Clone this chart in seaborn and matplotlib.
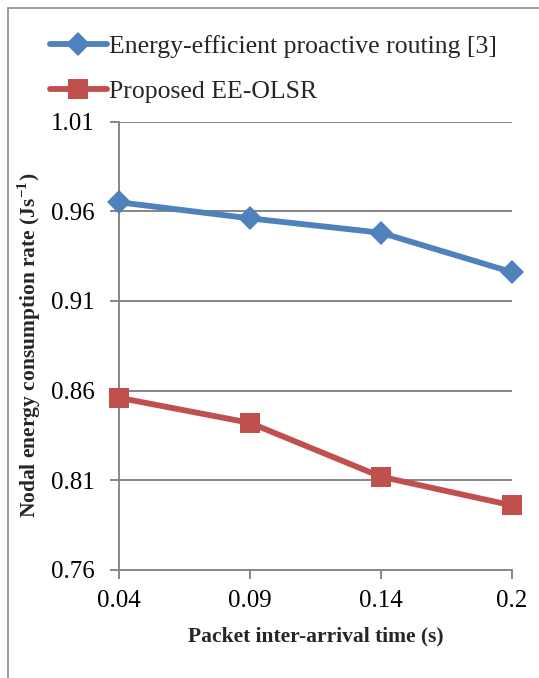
import matplotlib
matplotlib.use("Agg")
import matplotlib.pyplot as plt
import seaborn as sns
import pandas as pd
from matplotlib.patches import Rectangle

# Packet inter-arrival time categories (s)
arrival_times = ["0.04", "0.09", "0.14", "0.2"]
# Nodal energy consumption rate (J/s)
proactive_routing = [0.965, 0.956, 0.948, 0.926]
ee_olsr = [0.856, 0.842, 0.812, 0.796]
series_names = ["Energy-efficient proactive routing [3]", "Proposed EE-OLSR"]
y_ticks = [0.76, 0.81, 0.86, 0.91, 0.96, 1.01]

sns.set_theme(style="white")
plt.rcParams["font.family"] = ["Liberation Serif", "DejaVu Serif"]
plt.rcParams["mathtext.fontset"] = "custom"
plt.rcParams["mathtext.rm"] = "Liberation Serif"
plt.rcParams["mathtext.bf"] = "Liberation Serif:bold"

blue = "#4F81BD"
red = "#C0504D"
grid_c = "#868686"

W, H = 539, 678
fig = plt.figure(figsize=(W / 100, H / 100), dpi=100)
fig.patches.append(Rectangle((8 / W, -0.1), 1.2, 1 - 8 / H + 0.1,
                             transform=fig.transFigure, fill=False,
                             edgecolor="#8c8c8c", linewidth=1.2))
ax = fig.add_axes([119 / W, 1 - 570 / H, (512 - 119) / W, (570 - 121.5) / H])

df = pd.DataFrame({
    "x": list(range(len(arrival_times))) * 2,
    "rate": proactive_routing + ee_olsr,
    "series": [series_names[0]] * 4 + [series_names[1]] * 4,
})

sns.lineplot(data=df[df.series == series_names[0]], x="x", y="rate", ax=ax,
             color=blue, linewidth=4.2, marker="D", markersize=12,
             markeredgewidth=0, label=series_names[0], clip_on=False, zorder=4)
sns.lineplot(data=df[df.series == series_names[1]], x="x", y="rate", ax=ax,
             color=red, linewidth=4.2, marker="s", markersize=14,
             markeredgewidth=0, label=series_names[1], clip_on=False, zorder=4)

ax.set_xlim(0, 3)
ax.set_ylim(0.76, 1.01)
ax.set_yticks(y_ticks)
ax.set_yticklabels([f"{v:.2f}" for v in y_ticks])
ax.set_xticks(range(len(arrival_times)))
ax.set_xticklabels(arrival_times)

ax.grid(False)
for v in y_ticks[1:]:
    ax.axhline(v, color=grid_c, linewidth=1.4, zorder=1)

for s in ["top", "right"]:
    ax.spines[s].set_visible(False)
for s in ["left", "bottom"]:
    ax.spines[s].set_color(grid_c)
    ax.spines[s].set_linewidth(1.4)

ax.tick_params(axis="both", which="major", direction="out", length=6.5,
               width=1.4, color=grid_c, labelsize=18, labelcolor="black",
               left=True, bottom=True)
ax.tick_params(axis="y", pad=11)
ax.tick_params(axis="x", pad=8)

ax.set_xlabel("Packet inter-arrival time (s)", fontsize=15.5, fontweight="bold",
              labelpad=10)
ax.set_ylabel(r"Nodal energy consumption rate (Js$^{\mathbf{-1}}$)",
              fontsize=15.5, fontweight="bold", labelpad=6)

leg = ax.legend(loc="upper left", bbox_to_anchor=(50 / W, 1 - 35 / H),
                bbox_transform=fig.transFigure, frameon=False,
                fontsize=18.5, handlelength=2.2, handletextpad=0.1,
                labelspacing=0.85, borderpad=0, borderaxespad=0)

fig.savefig("out.png", dpi=100)
